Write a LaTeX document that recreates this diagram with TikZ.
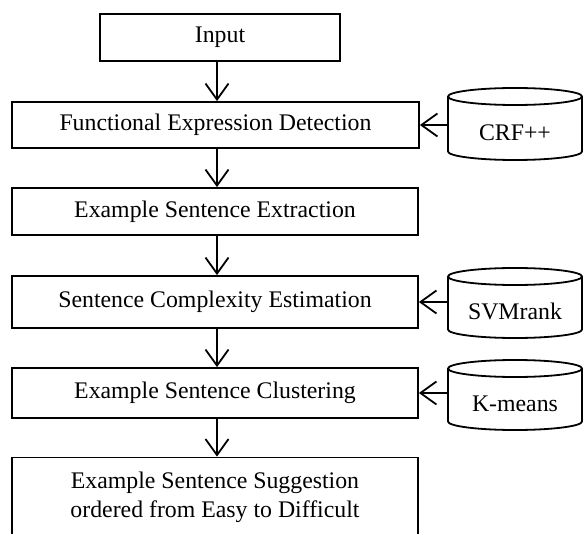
\documentclass[tikz,border=0pt]{standalone}
\usepackage{fontspec}
\setmainfont{Liberation Serif}
\usetikzlibrary{arrows.meta}
\begin{document}
\begin{tikzpicture}[x=1pt,y=-1pt,
  every node/.style={font=\fontsize{23.8}{29}\selectfont},
  procbox/.style={draw,line width=1.8pt,minimum width=406pt,inner sep=0pt,align=center},
  dblabel/.style={minimum width=134pt,inner sep=0pt},
  cyl/.style={draw,line width=1.8pt,fill=white},
  arr/.style={line width=1.8pt,-{Straight Barb[length=16pt,width=23pt,line width=1.8pt]}}]
\clip (0,0) rectangle (583,534);
\useasboundingbox (0,0) rectangle (583,534);
\coordinate (ax) at (217,0);
% process boxes
\node[procbox,minimum width=240pt,minimum height=47pt] (in) at (220,37.5) {Input};
\node[procbox,minimum width=407pt,minimum height=46pt] (fed) at (215.5,125) {Functional Expression Detection};
\node[procbox,minimum height=47pt] (ese) at (215,211.5) {Example Sentence Extraction};
\node[procbox,minimum height=52pt] (sce) at (215,302) {Sentence Complexity Estimation};
\node[procbox,minimum height=50pt] (esc) at (215,393) {Example Sentence Clustering};
\node[procbox,minimum height=80pt] (ess) at (215,497.5) {Example Sentence Suggestion\\ordered from Easy to Difficult};
% vertical arrows
\draw[arr] (in.south -| ax) -- (fed.north -| ax);
\draw[arr] (fed.south -| ax) -- (ese.north -| ax);
\draw[arr] (ese.south -| ax) -- (sce.north -| ax);
\draw[arr] (sce.south -| ax) -- (esc.north -| ax);
\draw[arr] (esc.south -| ax) -- (ess.north -| ax);
% cylinders
\foreach \yt/\yb in {88/160, 268/338, 360/430}{
  \draw[cyl] (448,\yt+8.5) -- (448,\yb-8.5)
    arc[start angle=180,end angle=0,x radius=67,y radius=8.5]
    -- (582,\yt+8.5);
  \draw[cyl] (515,\yt+8.5) ellipse[x radius=67,y radius=8.5];
}
\node[dblabel] (crf) at (515,132.5) {CRF++};
\node[dblabel] (svm) at (515,311.5) {SVMrank};
\node[dblabel] (km) at (515,403.5) {K-means};
% side arrows
\draw[arr] (crf.west |- fed.east) -- (fed.east);
\draw[arr] (svm.west |- sce.east) -- (sce.east);
\draw[arr] (km.west |- esc.east) -- (esc.east);
\end{tikzpicture}
\end{document}
